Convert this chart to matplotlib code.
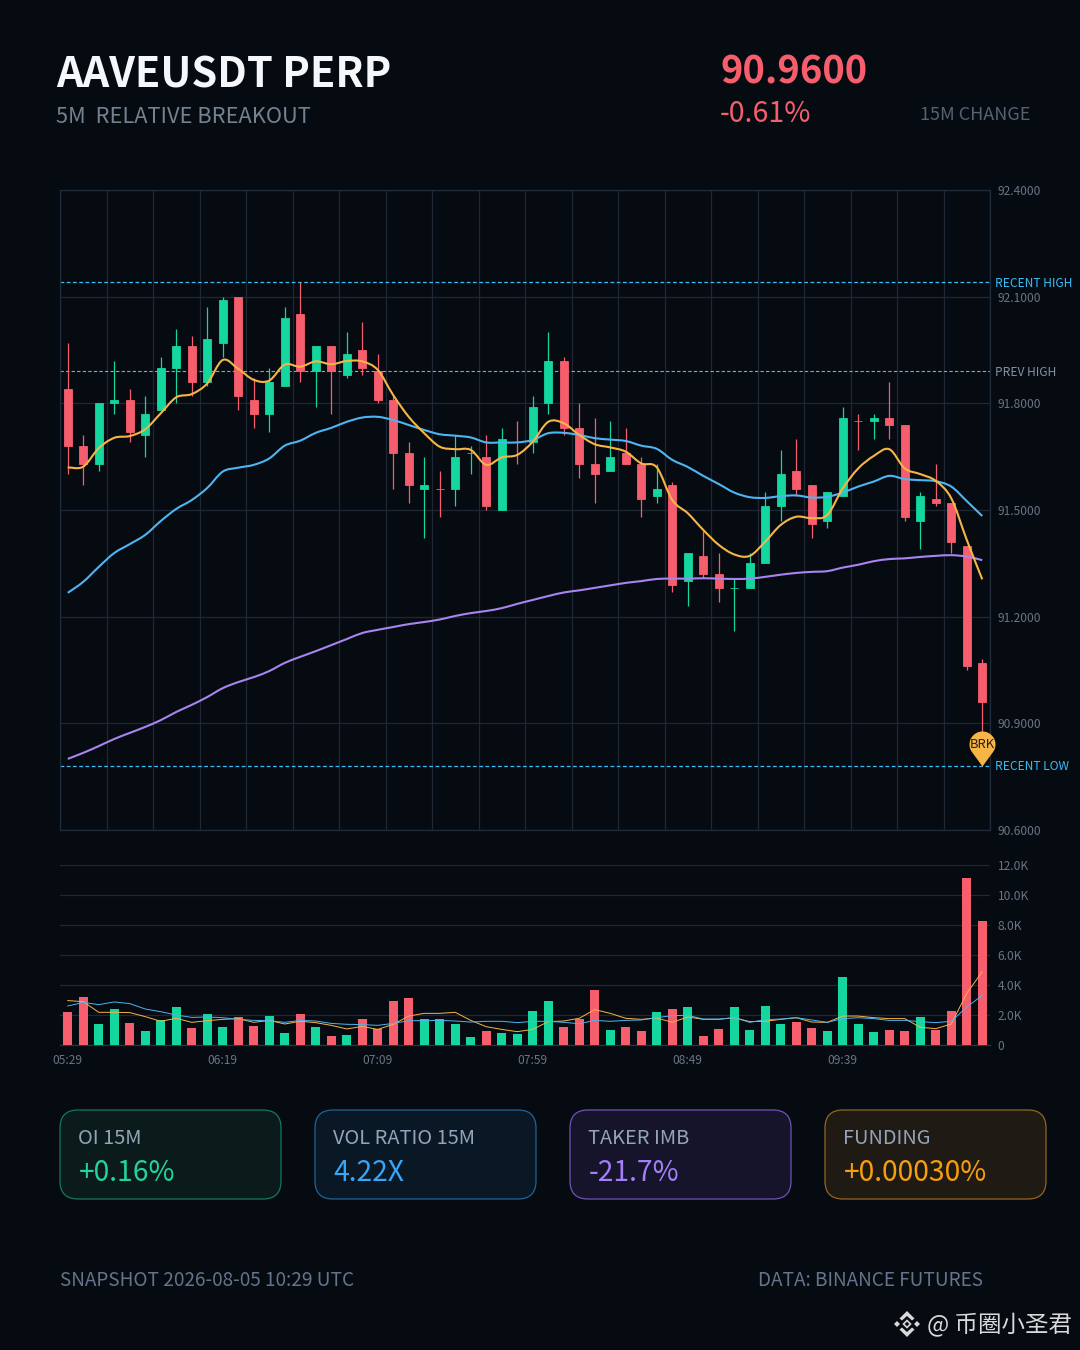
import numpy as np
import matplotlib
matplotlib.use('Agg')
import matplotlib.pyplot as plt
from matplotlib.path import Path
from matplotlib.patches import PathPatch, FancyBboxPatch, Polygon

plt.rcParams['font.family'] = ['Noto Sans CJK SC', 'DejaVu Sans']

# candles, every 5 min
opens = [91.84, 91.68, 91.63, 91.80, 91.81, 91.71, 91.78, 91.90, 91.96, 91.86,
         91.97, 92.10, 91.81, 91.77, 91.85, 92.05, 91.89, 91.96, 91.88, 91.95,
         91.89, 91.81, 91.66, 91.56, 91.56, 91.56, 91.66, 91.65, 91.50, 91.69,
         91.69, 91.80, 91.92, 91.73, 91.63, 91.61, 91.66, 91.63, 91.54, 91.57,
         91.30, 91.37, 91.32, 91.28, 91.28, 91.35, 91.51, 91.61, 91.57, 91.47,
         91.54, 91.75, 91.75, 91.76, 91.74, 91.47, 91.53, 91.52, 91.40, 91.07]
closes = [91.68, 91.63, 91.80, 91.81, 91.72, 91.77, 91.90, 91.96, 91.86, 91.98,
          92.09, 91.82, 91.77, 91.86, 92.04, 91.89, 91.96, 91.89, 91.94, 91.90,
          91.81, 91.66, 91.57, 91.57, 91.56, 91.65, 91.66, 91.51, 91.70, 91.69,
          91.79, 91.92, 91.73, 91.63, 91.60, 91.65, 91.63, 91.53, 91.56, 91.29,
          91.38, 91.32, 91.28, 91.28, 91.35, 91.51, 91.60, 91.56, 91.46, 91.55,
          91.76, 91.75, 91.76, 91.74, 91.48, 91.54, 91.52, 91.41, 91.06, 90.96]
highs = [91.97, 91.71, 91.80, 91.92, 91.84, 91.82, 91.93, 92.01, 91.99, 92.07,
         92.10, 92.10, 91.87, 91.90, 92.07, 92.14, 91.96, 91.96, 92.00, 92.03,
         91.94, 91.82, 91.69, 91.65, 91.61, 91.71, 91.68, 91.71, 91.73, 91.75,
         91.82, 92.00, 91.93, 91.80, 91.76, 91.75, 91.73, 91.65, 91.63, 91.58,
         91.38, 91.44, 91.38, 91.31, 91.38, 91.55, 91.67, 91.70, 91.57, 91.55,
         91.79, 91.77, 91.77, 91.86, 91.74, 91.55, 91.63, 91.52, 91.40, 91.08]
lows = [91.60, 91.57, 91.61, 91.77, 91.69, 91.65, 91.78, 91.80, 91.82, 91.85,
        91.93, 91.78, 91.73, 91.72, 91.85, 91.86, 91.79, 91.77, 91.87, 91.88,
        91.80, 91.56, 91.52, 91.42, 91.48, 91.51, 91.60, 91.50, 91.50, 91.63,
        91.66, 91.77, 91.71, 91.59, 91.52, 91.61, 91.63, 91.48, 91.52, 91.27,
        91.23, 91.31, 91.24, 91.16, 91.28, 91.35, 91.47, 91.54, 91.42, 91.45,
        91.54, 91.67, 91.70, 91.70, 91.47, 91.39, 91.51, 91.38, 91.05, 90.78]

ma_fast = [91.620, 91.622, 91.674, 91.703, 91.708, 91.727, 91.772, 91.817, 91.826, 91.856,
           91.922, 91.897, 91.866, 91.864, 91.909, 91.903, 91.918, 91.910, 91.919, 91.918,
           91.894, 91.823, 91.762, 91.716, 91.678, 91.671, 91.669, 91.627, 91.648, 91.655,
           91.692, 91.748, 91.744, 91.711, 91.685, 91.676, 91.664, 91.631, 91.620, 91.528,
           91.491, 91.444, 91.402, 91.375, 91.371, 91.411, 91.458, 91.481, 91.477, 91.486,
           91.561, 91.617, 91.652, 91.671, 91.617, 91.601, 91.582, 91.533, 91.416, 91.305]
ma_mid = [91.267, 91.298, 91.340, 91.379, 91.404, 91.430, 91.469, 91.503, 91.528, 91.562,
          91.608, 91.619, 91.627, 91.645, 91.681, 91.695, 91.717, 91.731, 91.748, 91.760,
          91.762, 91.753, 91.739, 91.725, 91.713, 91.709, 91.704, 91.690, 91.690, 91.690,
          91.697, 91.716, 91.717, 91.711, 91.702, 91.698, 91.694, 91.681, 91.672, 91.641,
          91.621, 91.596, 91.573, 91.549, 91.536, 91.534, 91.539, 91.541, 91.535, 91.537,
          91.549, 91.566, 91.580, 91.596, 91.587, 91.584, 91.581, 91.566, 91.525, 91.483]
ma_slow = [90.800, 90.817, 90.836, 90.856, 90.873, 90.890, 90.909, 90.932, 90.952, 90.974,
           90.999, 91.016, 91.030, 91.047, 91.070, 91.087, 91.103, 91.120, 91.137, 91.154,
           91.163, 91.171, 91.179, 91.185, 91.192, 91.202, 91.210, 91.216, 91.224, 91.236,
           91.247, 91.258, 91.268, 91.274, 91.281, 91.288, 91.295, 91.300, 91.306, 91.307,
           91.307, 91.308, 91.307, 91.306, 91.307, 91.312, 91.318, 91.323, 91.326, 91.328,
           91.338, 91.346, 91.356, 91.362, 91.364, 91.368, 91.371, 91.373, 91.369, 91.359]

# volume in thousands
volume = [2.18, 3.20, 1.40, 2.42, 1.44, 0.93, 1.67, 2.51, 1.11, 2.07,
          1.20, 1.89, 1.27, 1.91, 0.80, 2.09, 1.20, 0.58, 0.67, 1.71,
          1.09, 2.93, 3.11, 1.71, 1.71, 1.40, 0.51, 0.91, 0.80, 0.73,
          2.29, 2.93, 1.18, 1.73, 3.69, 0.98, 1.18, 0.91, 2.20, 2.38,
          2.53, 0.60, 1.07, 2.53, 0.98, 2.60, 1.38, 1.53, 1.16, 0.91,
          4.53, 1.38, 0.84, 0.98, 0.91, 1.84, 0.98, 2.24, 11.11, 8.29]
vol_fast = [2.96, 2.89, 2.18, 2.18, 2.16, 1.89, 1.58, 1.78, 1.51, 1.62,
            1.71, 1.76, 1.51, 1.64, 1.40, 1.58, 1.49, 1.31, 1.07, 1.24,
            1.04, 1.38, 1.93, 2.11, 2.11, 2.18, 1.64, 1.22, 1.04, 0.89,
            1.04, 1.56, 1.60, 1.78, 2.36, 2.11, 1.78, 1.71, 1.80, 1.51,
            1.87, 1.71, 1.71, 1.82, 1.56, 1.58, 1.71, 1.82, 1.53, 1.51,
            1.93, 1.93, 1.82, 1.76, 1.76, 1.18, 1.09, 1.40, 3.44, 4.89]
vol_slow = [2.60, 2.84, 2.69, 2.87, 2.76, 2.40, 2.22, 2.00, 1.84, 1.87,
            1.82, 1.71, 1.64, 1.62, 1.51, 1.64, 1.60, 1.44, 1.38, 1.36,
            1.31, 1.44, 1.62, 1.62, 1.64, 1.60, 1.53, 1.58, 1.58, 1.49,
            1.58, 1.58, 1.51, 1.42, 1.64, 1.58, 1.64, 1.67, 1.82, 1.96,
            1.98, 1.73, 1.73, 1.82, 1.51, 1.69, 1.73, 1.82, 1.67, 1.51,
            1.76, 1.82, 1.76, 1.64, 1.64, 1.56, 1.49, 1.58, 2.53, 3.31]

price_ticks = [90.6, 90.9, 91.2, 91.5, 91.8, 92.1, 92.4]
vol_ticks = [0, 2, 4, 6, 8, 10, 12]
time_labels = ['05:29', '06:19', '07:09', '07:59', '08:49', '09:39']
recent_high = 92.14
prev_high = 91.89
recent_low = 90.78

cards = [('OI 15M', '+0.16%', '#0b1b1b', '#14785a', '#22d39b'),
         ('VOL RATIO 15M', '4.22X', '#0a1826', '#1f6496', '#38a6f6'),
         ('TAKER IMB', '-21.7%', '#16142a', '#6f53b5', '#a47ff7'),
         ('FUNDING', '+0.00030%', '#1f1a14', '#96651c', '#f79e0f')]

BG = '#060b12'
GRID = '#1e2733'
UP = '#14d69f'
DOWN = '#f65d6d'
YELLOW = '#f6b545'
BLUE = '#4db5f2'
PURPLE = '#a884f0'
TICK = '#6b7483'
W, H = 1080, 1350


def fs(px):
    return px * 0.72


def smooth_path(x, y):
    # catmull-rom through the points, the lines in the reference are smoothed
    pts = np.column_stack([x, y])
    verts = [pts[0]]
    codes = [Path.MOVETO]
    for i in range(len(pts) - 1):
        p0 = pts[max(i - 1, 0)]
        p1 = pts[i]
        p2 = pts[i + 1]
        p3 = pts[min(i + 2, len(pts) - 1)]
        verts += [p1 + (p2 - p0) / 6, p2 - (p3 - p1) / 6, p2]
        codes += [Path.CURVE4] * 3
    return Path(verts, codes)


fig = plt.figure(figsize=(W / 100, H / 100), dpi=100, facecolor=BG)

idx = np.arange(len(closes))
is_up = []
for i in idx:
    if closes[i] != opens[i]:
        is_up.append(closes[i] > opens[i])
    else:
        is_up.append(i == 0 or closes[i] >= closes[i - 1])
colors = [UP if u else DOWN for u in is_up]
vol_colors = [UP if closes[i] >= opens[i] else DOWN for i in idx]

# price panel
ax = fig.add_axes([60 / W, 1 - 830 / H, 930 / W, 640 / H], facecolor=BG)
ax.set_xlim(-0.5, 59.5)
ax.set_ylim(90.6, 92.4)
ax.set_xticks(np.arange(-0.5, 60, 3))
ax.set_yticks(price_ticks)
ax.set_yticklabels(['%.4f' % t for t in price_ticks])
ax.yaxis.tick_right()
ax.tick_params(axis='x', length=0, labelbottom=False)
ax.tick_params(axis='y', length=0, pad=5.4, labelsize=fs(12), labelcolor=TICK)
ax.grid(True, color=GRID, lw=0.9)
ax.set_axisbelow(True)
for s in ax.spines.values():
    s.set_color('#212c3a')
    s.set_linewidth(0.9)

ax.vlines(idx, lows, highs, colors=colors, lw=0.9, zorder=3)
body_lo = np.minimum(opens, closes)
body_h = np.abs(np.array(opens) - np.array(closes))
ax.bar(idx, body_h, bottom=body_lo, width=0.52, color=colors, edgecolor=colors, lw=0.6, zorder=3)

for series, col in [(ma_slow, PURPLE), (ma_mid, BLUE), (ma_fast, YELLOW)]:
    ax.add_patch(PathPatch(smooth_path(idx, series), fill=False, edgecolor=col, lw=1.5, zorder=4))

ax.axhline(recent_high, color='#38bdf8', lw=0.9, ls=(0, (3, 2)), zorder=2)
ax.axhline(recent_low, color='#38bdf8', lw=0.9, ls=(0, (3, 2)), zorder=2)
ax.axhline(prev_high, color='#94a3b8', lw=0.8, ls=(0, (3, 2)), zorder=2)

ytrans = ax.get_yaxis_transform()
for val, name, col in [(recent_high, 'RECENT HIGH', '#38bdf8'),
                       (prev_high, 'PREV HIGH', '#8391a3'),
                       (recent_low, 'RECENT LOW', '#38bdf8')]:
    ax.annotate(name, xy=(1, val), xycoords=ytrans, xytext=(fs(5), fs(-1)), textcoords='offset points',
                color=col, fontsize=fs(12), va='center', ha='left', annotation_clip=False)

# BRK pin on the last low
ang = np.radians(np.linspace(-40, 220, 40))
pin = np.column_stack([13 * np.cos(ang), 22 + 13 * np.sin(ang)])
pin = np.vstack([[0, 0], pin, [0, 0]])
ax.plot([59], [recent_low], marker=Path(pin), ms=fs(2 * 35), color=YELLOW, mew=0, ls='none',
        zorder=6, clip_on=False)
ax.annotate('BRK', xy=(59, recent_low), xytext=(0, fs(22)), textcoords='offset points',
            color='#2a2110', fontsize=fs(13), ha='center', va='center', zorder=7)

# volume panel
vax = fig.add_axes([60 / W, 1 - 1045 / H, 930 / W, 180 / H], facecolor=BG)
vax.set_xlim(-0.5, 59.5)
vax.set_ylim(0, 12)
vax.set_yticks(vol_ticks)
vax.set_yticklabels(['0' if t == 0 else '%.1fK' % t for t in vol_ticks])
vax.yaxis.tick_right()
vax.set_xticks(np.arange(0, 60, 10))
vax.set_xticklabels(time_labels)
vax.tick_params(axis='x', length=0, pad=6.5, labelsize=fs(12), labelcolor=TICK)
vax.tick_params(axis='y', length=0, pad=5.4, labelsize=fs(12), labelcolor=TICK)
vax.grid(True, axis='y', color=GRID, lw=0.9)
vax.set_axisbelow(True)
for name, s in vax.spines.items():
    s.set_visible(name == 'bottom')
vax.spines['bottom'].set_color('#2a3442')
vax.spines['bottom'].set_linewidth(0.9)

vax.bar(idx, volume, width=0.56, color=vol_colors, zorder=3)
vax.plot(idx, vol_fast, color=YELLOW, lw=0.7, zorder=4)
vax.plot(idx, vol_slow, color=BLUE, lw=0.7, zorder=4)

# overlay in pixel units for header, cards, footer
ov = fig.add_axes([0, 0, 1, 1], facecolor='none')
ov.set_xlim(0, W)
ov.set_ylim(H, 0)
ov.axis('off')

ov.text(56, 76, 'AAVEUSDT PERP', color='#f5f7fa', fontsize=fs(41.5), fontweight='bold', va='center')
ov.text(56, 117, '5M  RELATIVE BREAKOUT', color='#74818f', fontsize=fs(21.8), va='center')
ov.text(720, 72, '90.9600', color=DOWN, fontsize=fs(38), fontweight='bold', va='center')
ov.text(720, 114, '-0.61%', color=DOWN, fontsize=fs(28.5), va='center')
ov.text(1030, 115, '15M CHANGE', color='#566272', fontsize=fs(18), va='center', ha='right')

card_x = [60, 315, 570, 825]
for cx, (label, value, fill, edge, col) in zip(card_x, cards):
    ov.add_patch(FancyBboxPatch((cx + 18, 1110 + 18), 221 - 36, 89 - 36,
                                boxstyle='round,pad=18,rounding_size=18',
                                facecolor=fill, edgecolor=edge, lw=0.9))
    ov.text(cx + 18, 1139, label, color='#94a3b8', fontsize=fs(20), va='center')
    ov.text(cx + 18.5, 1173, value, color=col, fontsize=fs(28.2), va='center')

ov.text(60, 1281, 'SNAPSHOT 2026-08-05 10:29 UTC', color='#64748b', fontsize=fs(19), va='center')
ov.text(983, 1281, 'DATA: BINANCE FUTURES', color='#64748b', fontsize=fs(19), va='center', ha='right')

# watermark logo
LOGO = '#d9d9d9'
lx, ly = 907, 1324
for dx, dy in [(-10, 0), (10, 0)]:
    ov.add_patch(Polygon([(lx + dx - 3, ly + dy), (lx + dx, ly + dy - 3), (lx + dx + 3, ly + dy), (lx + dx, ly + dy + 3)],
                         facecolor=LOGO, edgecolor='none'))
ov.add_patch(Polygon([(lx - 3.5, ly), (lx, ly - 3.5), (lx + 3.5, ly), (lx, ly + 3.5)],
                     facecolor=BG, edgecolor=LOGO, lw=1.2))
ov.add_patch(Polygon([(lx, ly - 13), (lx + 7.5, ly - 5.5), (lx + 5, ly - 3.5), (lx, ly - 8), (lx - 5, ly - 3.5), (lx - 7.5, ly - 5.5)],
                     facecolor=LOGO, edgecolor='none'))
ov.add_patch(Polygon([(lx, ly + 13), (lx + 7.5, ly + 5.5), (lx + 5, ly + 3.5), (lx, ly + 8), (lx - 5, ly + 3.5), (lx - 7.5, ly + 5.5)],
                     facecolor=LOGO, edgecolor='none'))
ov.text(927, 1325, '@ 币圈小圣君', color=LOGO, fontsize=fs(23.5), va='center')

fig.savefig('out.png', dpi=100, facecolor=BG)
